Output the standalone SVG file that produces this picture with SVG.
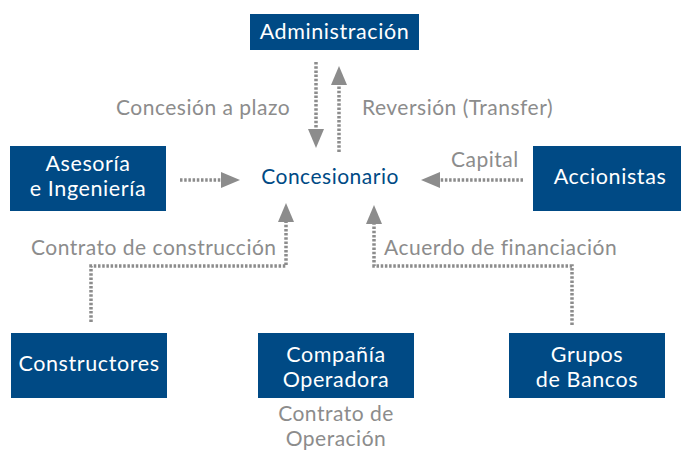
<svg xmlns="http://www.w3.org/2000/svg" width="681" height="450" viewBox="0 0 681 450">
<defs>
<style>
.box{fill:#004a85}
.bt{fill:#ffffff;font-family:Lato,"Open Sans",sans-serif;font-size:21.5px;letter-spacing:0.6px;text-anchor:middle}
.lbl{fill:#8c8c8c;font-family:Lato,"Open Sans",sans-serif;font-size:21px;letter-spacing:0.5px}
.c{fill:none;stroke:#8c8c8c;stroke-width:3.5;stroke-dasharray:2.5 1.7}
</style>
<marker id="ah" markerUnits="userSpaceOnUse" markerWidth="20" markerHeight="16" refX="0" refY="8" orient="auto" overflow="visible">
<path d="M0,0 L19,8 L0,16 Z" fill="#8c8c8c"/>
</marker>
</defs>
<rect width="681" height="450" fill="#ffffff"/>
<g id="connectors">
<path class="c" d="M316,62 V129" marker-end="url(#ah)"/>
<path class="c" d="M339,152 V85" marker-end="url(#ah)"/>
<path class="c" d="M180,180 H221" marker-end="url(#ah)"/>
<path class="c" d="M523,180 H440" marker-end="url(#ah)"/>
<path class="c" d="M91,322 V266 H286 V222" marker-end="url(#ah)"/>
<path class="c" d="M572,325 V266 H374 V224" marker-end="url(#ah)"/>
<text class="lbl" x="116" y="115">Concesión a plazo</text>
<text class="lbl" x="362" y="115">Reversión (Transfer)</text>
<text class="lbl" x="451" y="167">Capital</text>
<text class="lbl" x="31" y="255">Contrato de construcción</text>
<text class="lbl" x="384" y="255">Acuerdo de financiación</text>
<text class="lbl" x="336" y="421" text-anchor="middle">Contrato de</text>
<text class="lbl" x="336" y="446" text-anchor="middle">Operación</text>
</g>
<g id="administracion">
<rect class="box" x="250" y="14" width="169" height="36"/>
<text class="bt" x="334.5" y="39">Administración</text>
</g>
<g id="concesionario">
<text x="330" y="184" fill="#004a85" font-family="Lato,'Open Sans',sans-serif" font-size="21" letter-spacing="0.5" text-anchor="middle">Concesionario</text>
</g>
<g id="asesoria">
<rect class="box" x="10" y="146" width="156" height="65"/>
<text class="bt" x="88" y="171">Asesoría</text>
<text class="bt" x="88" y="196">e Ingeniería</text>
</g>
<g id="accionistas">
<rect class="box" x="533" y="146" width="148" height="65"/>
<text class="bt" x="610" y="184">Accionistas</text>
</g>
<g id="constructores">
<rect class="box" x="11" y="333" width="156" height="65"/>
<text class="bt" x="89" y="371">Constructores</text>
</g>
<g id="compania">
<rect class="box" x="258" y="333" width="156" height="65"/>
<text class="bt" x="336" y="362">Compañía</text>
<text class="bt" x="336" y="387">Operadora</text>
</g>
<g id="grupos">
<rect class="box" x="509" y="333" width="156" height="65"/>
<text class="bt" x="587" y="362">Grupos</text>
<text class="bt" x="587" y="387">de Bancos</text>
</g>
</svg>
